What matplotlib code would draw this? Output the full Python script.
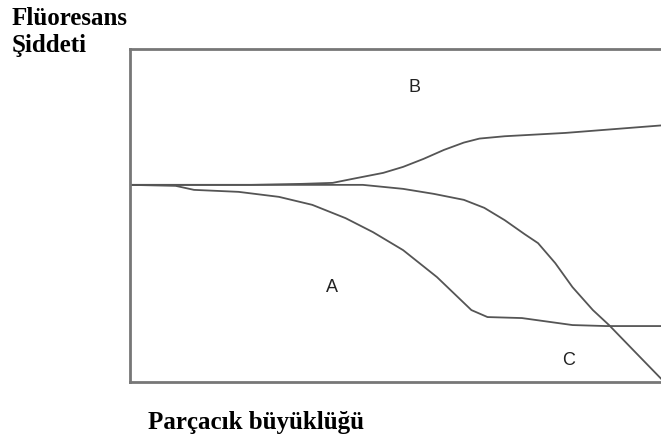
import matplotlib.pyplot as plt

# data (x: particle size, y: fluorescence intensity, 0-10 scale)
a_x = [0, 0.85, 1.19, 2.02, 2.77, 3.39, 4.01, 4.52, 5.08, 5.71, 6.35, 6.65, 7.29, 8.23, 8.85, 10]
a_y = [5.92, 5.89, 5.77, 5.71, 5.56, 5.32, 4.92, 4.50, 3.96, 3.15, 2.16, 1.95, 1.92, 1.71, 1.68, 1.68]

b_x = [0, 2.26, 3.20, 3.77, 4.14, 4.71, 5.08, 5.46, 5.84, 6.21, 6.50, 6.97, 8.10, 10]
b_y = [5.92, 5.92, 5.95, 5.98, 6.10, 6.28, 6.46, 6.70, 6.97, 7.19, 7.31, 7.38, 7.48, 7.72]

c_x = [0, 3.20, 4.33, 5.08, 5.65, 6.21, 6.59, 6.97, 7.34, 7.59, 7.91, 8.23, 8.61, 8.91, 9.36, 9.92]
c_y = [5.92, 5.92, 5.92, 5.80, 5.65, 5.47, 5.23, 4.86, 4.44, 4.17, 3.57, 2.85, 2.16, 1.71, 0.96, 0.03]

labels = ["A", "B", "C"]
label_x = [3.75, 5.29, 8.15]
label_y = [2.85, 8.83, 0.66]

fig = plt.figure(figsize=(6.61, 4.42), dpi=100)
ax = fig.add_axes([130 / 661, 60 / 442, 531 / 661 + 0.01, 333 / 442])

line_col = "#555555"
ax.plot(a_x, a_y, color=line_col, lw=1.3)
ax.plot(b_x, b_y, color=line_col, lw=1.3)
ax.plot(c_x, c_y, color=line_col, lw=1.3)

for t, x, y in zip(labels, label_x, label_y):
    ax.text(x, y, t, ha="center", va="center", fontsize=13,
            family="Liberation Sans", color="#222222")

ax.set_xlim(0, 10)
ax.set_ylim(0, 10)
ax.set_xticks([])
ax.set_yticks([])
for s in ["left", "top", "bottom"]:
    ax.spines[s].set_color("#777777")
    ax.spines[s].set_linewidth(2)
ax.spines["right"].set_visible(False)

fnt = dict(family="Liberation Serif", weight="bold", fontsize=18, color="#000000")
fig.text(12 / 661, 1 - 25 / 442, "Flüoresans", va="baseline", **fnt)
fig.text(12 / 661, 1 - 52 / 442, "Şiddeti", va="baseline", **fnt)
fig.text(148 / 661, 1 - 429 / 442, "Parçacık büyüklüğü", va="baseline", **fnt)

fig.savefig("out.png", dpi=100)
